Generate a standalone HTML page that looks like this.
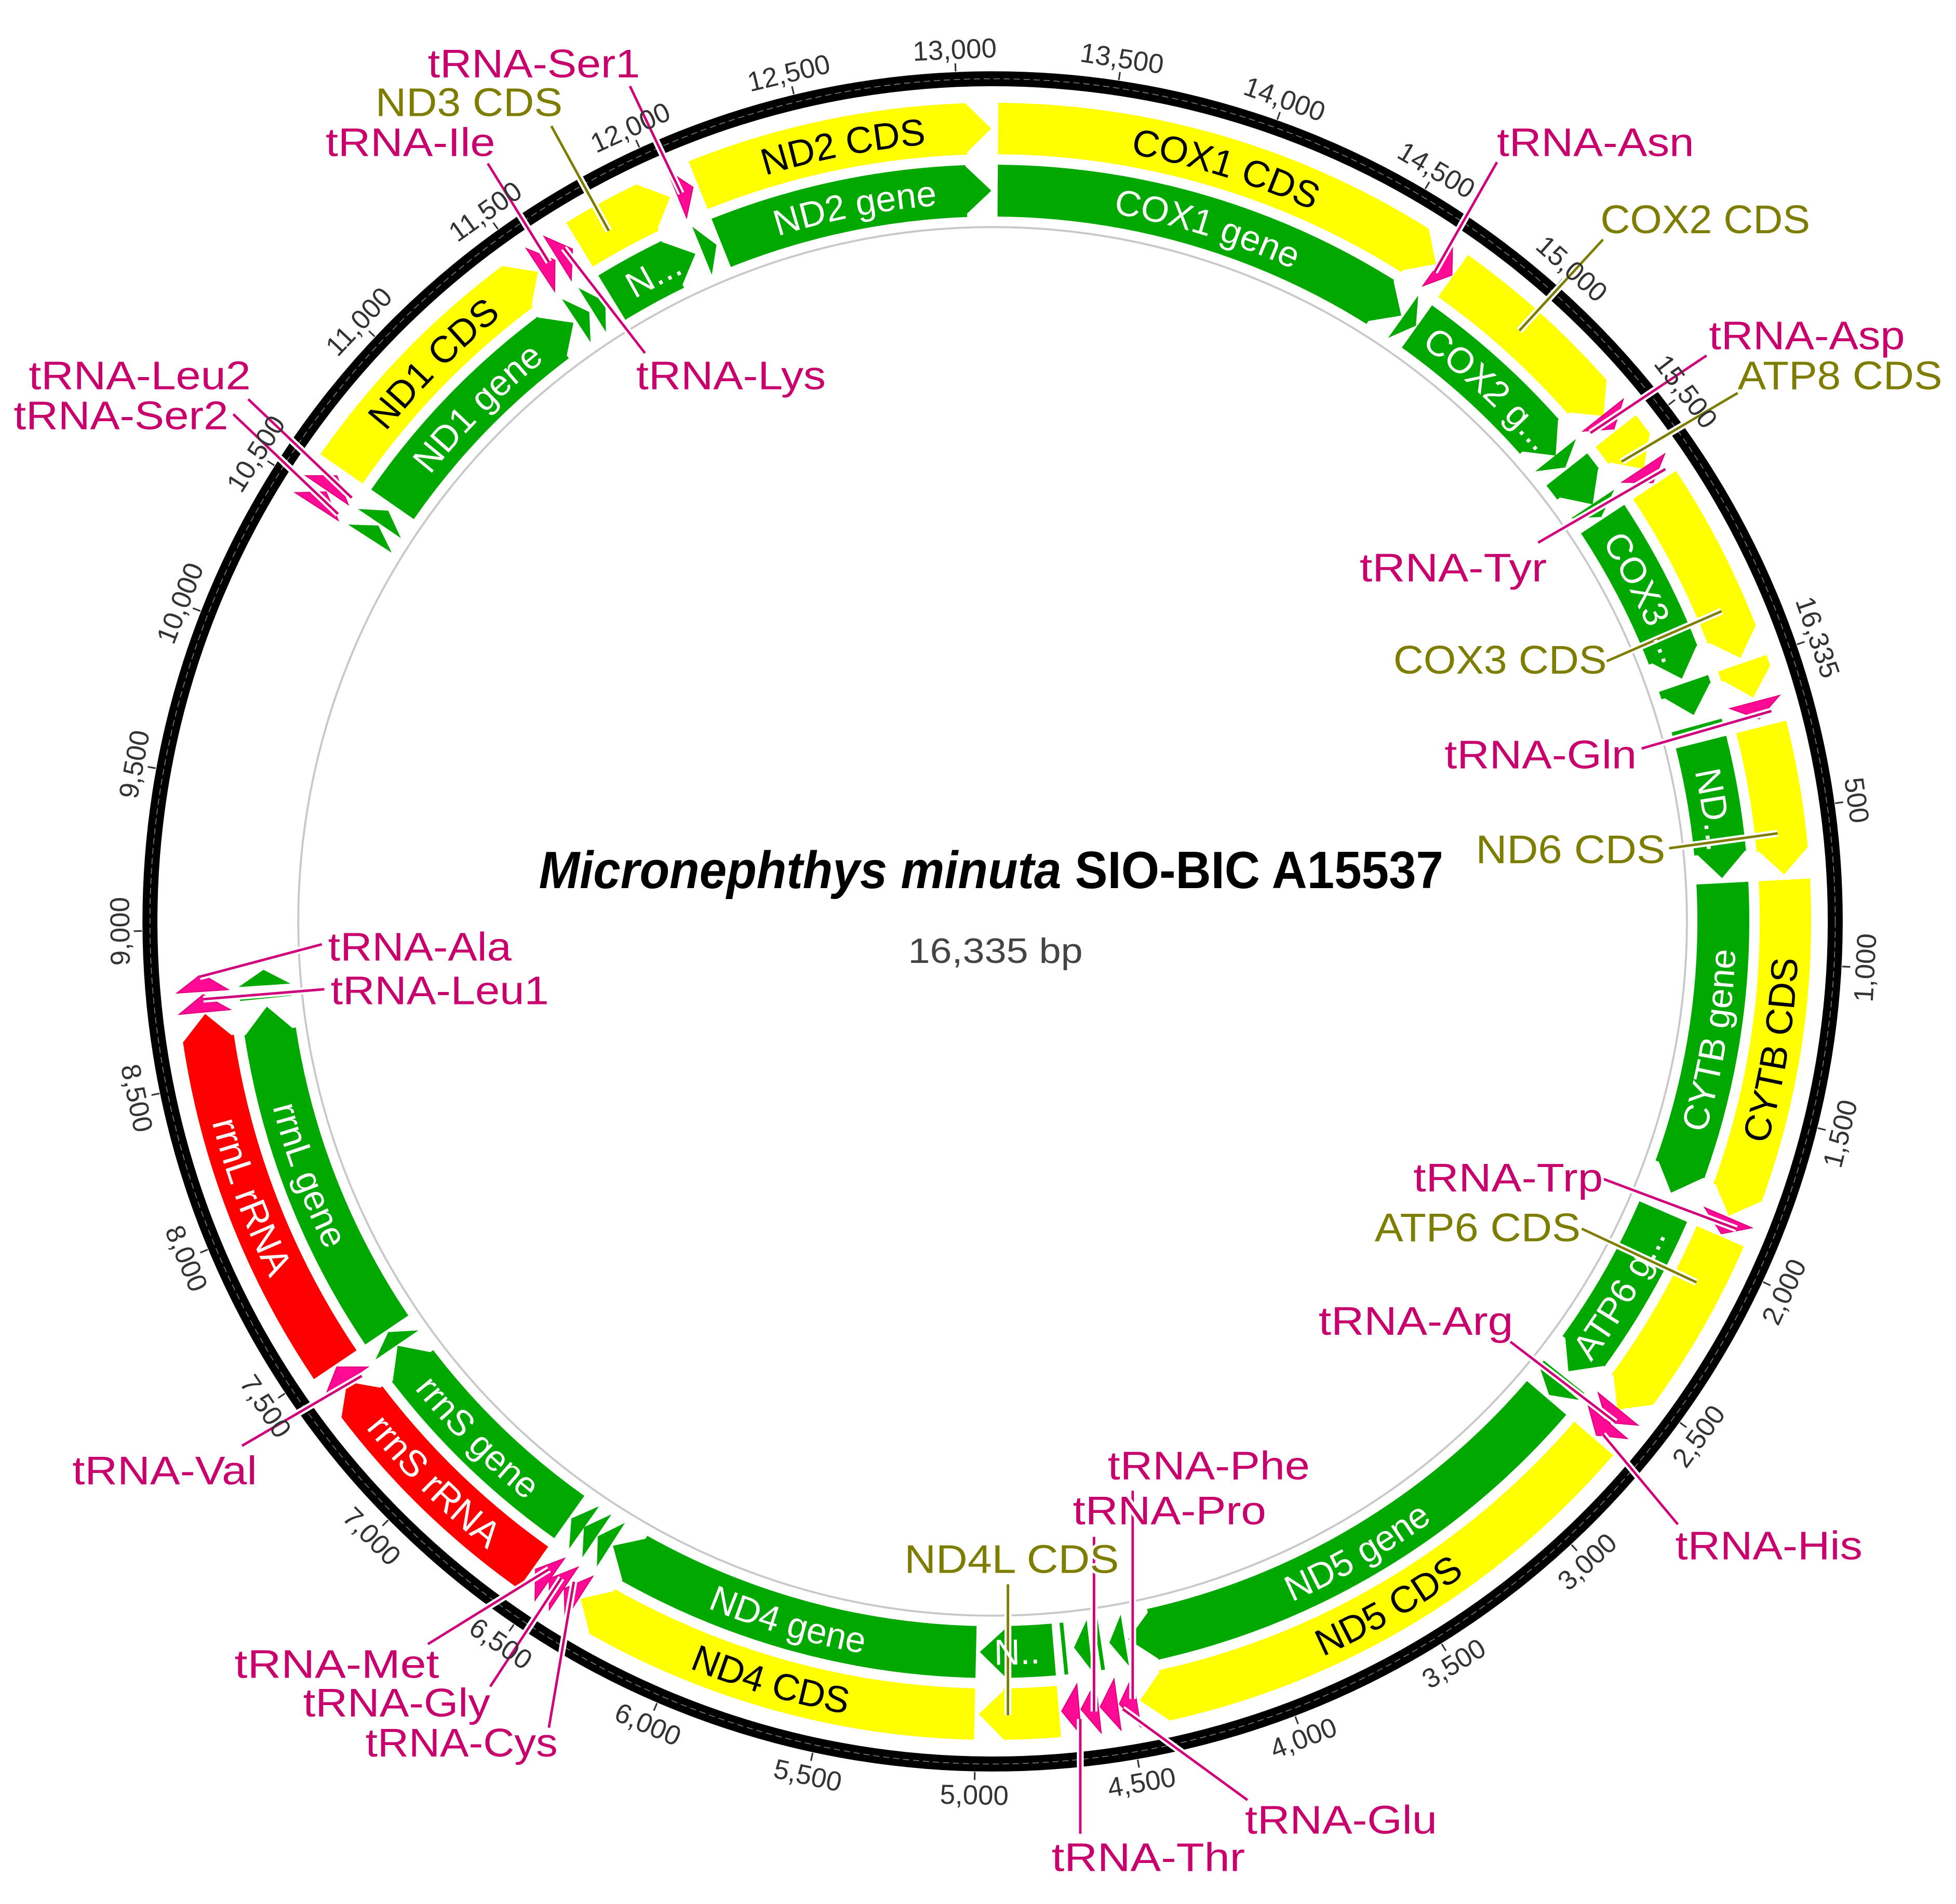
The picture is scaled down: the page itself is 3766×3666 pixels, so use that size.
<!DOCTYPE html>
<html><head><meta charset="utf-8"><style>
html,body{margin:0;padding:0;background:#fff;width:3766px;height:3666px;overflow:hidden;}
svg{display:block;}
.tk{font-family:"Liberation Sans",sans-serif;font-size:22px;fill:#333;text-anchor:middle;}
.lp{font-family:"Liberation Sans",sans-serif;font-size:32px;fill:#c8006e;paint-order:stroke;stroke:#fff;stroke-width:4px;}
.lo{font-family:"Liberation Sans",sans-serif;font-size:32px;fill:#7d7d00;paint-order:stroke;stroke:#fff;stroke-width:4px;}
.tc{font-family:"Liberation Sans",sans-serif;font-size:30px;fill:#000;text-anchor:middle;}
.tg{font-family:"Liberation Sans",sans-serif;font-size:29px;fill:#fff;text-anchor:middle;}
.bo{fill:none;stroke-width:41.2;}
.bg{fill:none;stroke-width:41.6;}
.y{stroke:#ffff00;} .g{stroke:#00a800;} .r{stroke:#ff0000;}
.tkl line{stroke:#333;stroke-width:1.3;}
.wl line{stroke:#fff;stroke-width:5.5;}
.pl line{stroke:#d0007a;stroke-width:2;}
.ol line{stroke:#7d7d00;stroke-width:2;}
</style></head><body>
<svg xmlns="http://www.w3.org/2000/svg" width="3766" height="3666" viewBox="0 0 1568 1526.3">
<defs>
<polygon id="ao" points="774.7,82.4 795.7,103 774.7,123.6"/>
<polygon id="ag" points="773.7,132 795.7,152.8 773.7,173.6"/>
<polygon id="to" points="781.7,82.4 795.7,103 781.7,123.6"/>
<polygon id="tg" points="783.2,132 795.7,152.8 783.2,173.6"/>
<path id="cwO" d="M795.7 113.5 A625.1 625.1 0 1 1 795.7 1363.7 A625.1 625.1 0 1 1 795.7 113.5"/>
<path id="cwG" d="M795.7 163 A575.6 575.6 0 1 1 795.7 1314.2 A575.6 575.6 0 1 1 795.7 163"/>
<path id="ccwO" d="M795.7 92.5 A646.1 646.1 0 1 0 795.7 1384.7 A646.1 646.1 0 1 0 795.7 92.5"/>
<path id="ccwG" d="M795.7 142.65 A595.95 595.95 0 1 0 795.7 1334.55 A595.95 595.95 0 1 0 795.7 142.65"/>
</defs>
<rect x="0" y="0" width="1568" height="1526.3" fill="#fff"/>
<circle cx="795.7" cy="738.6" r="556.6" fill="none" stroke="#c8c8c8" stroke-width="1.6"/>
<circle cx="795.7" cy="738.6" r="675.5" fill="none" stroke="#000" stroke-width="12"/>
<circle cx="795.7" cy="738.6" r="675.5" fill="none" stroke="#777" stroke-width="0.7" stroke-dasharray="5 3"/>
<g class="tkl">
<line x1="795.7" y1="56.6" x2="795.7" y2="50.1" transform="rotate(71 795.7 738.6)"/>
<line x1="795.7" y1="56.6" x2="795.7" y2="50.1" transform="rotate(82.02 795.7 738.6)"/>
<line x1="795.7" y1="56.6" x2="795.7" y2="50.1" transform="rotate(93.04 795.7 738.6)"/>
<line x1="795.7" y1="56.6" x2="795.7" y2="50.1" transform="rotate(104.06 795.7 738.6)"/>
<line x1="795.7" y1="56.6" x2="795.7" y2="50.1" transform="rotate(115.08 795.7 738.6)"/>
<line x1="795.7" y1="56.6" x2="795.7" y2="50.1" transform="rotate(126.10 795.7 738.6)"/>
<line x1="795.7" y1="56.6" x2="795.7" y2="50.1" transform="rotate(137.12 795.7 738.6)"/>
<line x1="795.7" y1="56.6" x2="795.7" y2="50.1" transform="rotate(148.14 795.7 738.6)"/>
<line x1="795.7" y1="56.6" x2="795.7" y2="50.1" transform="rotate(159.16 795.7 738.6)"/>
<line x1="795.7" y1="56.6" x2="795.7" y2="50.1" transform="rotate(170.18 795.7 738.6)"/>
<line x1="795.7" y1="56.6" x2="795.7" y2="50.1" transform="rotate(181.20 795.7 738.6)"/>
<line x1="795.7" y1="56.6" x2="795.7" y2="50.1" transform="rotate(192.21 795.7 738.6)"/>
<line x1="795.7" y1="56.6" x2="795.7" y2="50.1" transform="rotate(203.23 795.7 738.6)"/>
<line x1="795.7" y1="56.6" x2="795.7" y2="50.1" transform="rotate(214.25 795.7 738.6)"/>
<line x1="795.7" y1="56.6" x2="795.7" y2="50.1" transform="rotate(225.27 795.7 738.6)"/>
<line x1="795.7" y1="56.6" x2="795.7" y2="50.1" transform="rotate(236.29 795.7 738.6)"/>
<line x1="795.7" y1="56.6" x2="795.7" y2="50.1" transform="rotate(247.31 795.7 738.6)"/>
<line x1="795.7" y1="56.6" x2="795.7" y2="50.1" transform="rotate(258.33 795.7 738.6)"/>
<line x1="795.7" y1="56.6" x2="795.7" y2="50.1" transform="rotate(269.35 795.7 738.6)"/>
<line x1="795.7" y1="56.6" x2="795.7" y2="50.1" transform="rotate(280.37 795.7 738.6)"/>
<line x1="795.7" y1="56.6" x2="795.7" y2="50.1" transform="rotate(291.39 795.7 738.6)"/>
<line x1="795.7" y1="56.6" x2="795.7" y2="50.1" transform="rotate(302.41 795.7 738.6)"/>
<line x1="795.7" y1="56.6" x2="795.7" y2="50.1" transform="rotate(313.43 795.7 738.6)"/>
<line x1="795.7" y1="56.6" x2="795.7" y2="50.1" transform="rotate(324.45 795.7 738.6)"/>
<line x1="795.7" y1="56.6" x2="795.7" y2="50.1" transform="rotate(335.47 795.7 738.6)"/>
<line x1="795.7" y1="56.6" x2="795.7" y2="50.1" transform="rotate(346.49 795.7 738.6)"/>
<line x1="795.7" y1="56.6" x2="795.7" y2="50.1" transform="rotate(357.51 795.7 738.6)"/>
<line x1="795.7" y1="56.6" x2="795.7" y2="50.1" transform="rotate(8.53 795.7 738.6)"/>
<line x1="795.7" y1="56.6" x2="795.7" y2="50.1" transform="rotate(19.55 795.7 738.6)"/>
<line x1="795.7" y1="56.6" x2="795.7" y2="50.1" transform="rotate(30.57 795.7 738.6)"/>
<line x1="795.7" y1="56.6" x2="795.7" y2="50.1" transform="rotate(41.59 795.7 738.6)"/>
<line x1="795.7" y1="56.6" x2="795.7" y2="50.1" transform="rotate(52.61 795.7 738.6)"/>
</g>
<g>
<circle class="bo y" cx="795.7" cy="738.6" r="635.6" stroke-dasharray="352.8 5000" transform="rotate(-89.6 795.7 738.6)"/>
<circle class="bo y" cx="795.7" cy="738.6" r="635.6" stroke-dasharray="145.3 5000" transform="rotate(-54.5 795.7 738.6)"/>
<circle class="bo y" cx="795.7" cy="738.6" r="635.6" stroke-dasharray="17.7 5000" transform="rotate(-38.2 795.7 738.6)"/>
<circle class="bo y" cx="795.7" cy="738.6" r="635.6" stroke-dasharray="135.3 5000" transform="rotate(-33.4 795.7 738.6)"/>
<circle class="bo y" cx="795.7" cy="738.6" r="635.6" stroke-dasharray="8.9 5000" transform="rotate(-19 795.7 738.6)"/>
<circle class="bo y" cx="795.7" cy="738.6" r="635.6" stroke-dasharray="99.8 5000" transform="rotate(-14.2 795.7 738.6)"/>
<circle class="bo y" cx="795.7" cy="738.6" r="635.6" stroke-dasharray="255.1 5000" transform="rotate(-3 795.7 738.6)"/>
<circle class="bo y" cx="795.7" cy="738.6" r="635.6" stroke-dasharray="142 5000" transform="rotate(23.4 795.7 738.6)"/>
<circle class="bo y" cx="795.7" cy="738.6" r="635.6" stroke-dasharray="408.2 5000" transform="rotate(40.7 795.7 738.6)"/>
<circle class="bo y" cx="795.7" cy="738.6" r="635.6" stroke-dasharray="44.4 5000" transform="rotate(85.2 795.7 738.6)"/>
<circle class="bo y" cx="795.7" cy="738.6" r="635.6" stroke-dasharray="312.8 5000" transform="rotate(91.3 795.7 738.6)"/>
<circle class="bo r" cx="795.7" cy="738.6" r="635.6" stroke-dasharray="191.9 5000" transform="rotate(125.4 795.7 738.6)"/>
<circle class="bo r" cx="795.7" cy="738.6" r="635.6" stroke-dasharray="282.9 5000" transform="rotate(146 795.7 738.6)"/>
<circle class="bo y" cx="795.7" cy="738.6" r="635.6" stroke-dasharray="204.1 5000" transform="rotate(214.8 795.7 738.6)"/>
<circle class="bo y" cx="795.7" cy="738.6" r="635.6" stroke-dasharray="62.1 5000" transform="rotate(238.6 795.7 738.6)"/>
<circle class="bo y" cx="795.7" cy="738.6" r="635.6" stroke-dasharray="220.8 5000" transform="rotate(248.2 795.7 738.6)"/>
</g>
<g fill="#ffff00">
<use href="#ao" transform="rotate(34 795.7 738.6)"/>
<use href="#ao" transform="rotate(50.4 795.7 738.6)"/>
<use href="#ao" transform="rotate(55.2 795.7 738.6)"/>
<use href="#ao" transform="rotate(70.6 795.7 738.6)"/>
<use href="#ao" transform="rotate(73.6 795.7 738.6)"/>
<use href="#ao" transform="rotate(86.6 795.7 738.6)"/>
<use href="#ao" transform="rotate(111.8 795.7 738.6)"/>
<use href="#ao" transform="rotate(128 795.7 738.6)"/>
<use href="#ao" transform="rotate(169.3 795.7 738.6)"/>
<use href="#ao" transform="rotate(181 795.7 738.6)"/>
<use href="#ao" transform="rotate(211.3 795.7 738.6)"/>
<use href="#ao" transform="rotate(325 795.7 738.6)"/>
<use href="#ao" transform="rotate(336 795.7 738.6)"/>
<use href="#ao" transform="rotate(359.9 795.7 738.6)"/>
</g>
<g fill="#ff0000">
<use href="#ao" transform="rotate(234.5 795.7 738.6)"/>
<use href="#ao" transform="rotate(263.3 795.7 738.6)"/>
</g>
<g>
<circle class="bg g" cx="795.7" cy="738.6" r="585.8" stroke-dasharray="323.5 5000" transform="rotate(-89.6 795.7 738.6)"/>
<circle class="bg g" cx="795.7" cy="738.6" r="585.8" stroke-dasharray="132.3 5000" transform="rotate(-54.5 795.7 738.6)"/>
<circle class="bg g" cx="795.7" cy="738.6" r="585.8" stroke-dasharray="14.7 5000" transform="rotate(-38.2 795.7 738.6)"/>
<circle class="bg g" cx="795.7" cy="738.6" r="585.8" stroke-dasharray="123.1 5000" transform="rotate(-33.4 795.7 738.6)"/>
<circle class="bg g" cx="795.7" cy="738.6" r="585.8" stroke-dasharray="6.5 5000" transform="rotate(-19 795.7 738.6)"/>
<circle class="bg g" cx="795.7" cy="738.6" r="585.8" stroke-dasharray="90.4 5000" transform="rotate(-14.2 795.7 738.6)"/>
<circle class="bg g" cx="795.7" cy="738.6" r="585.8" stroke-dasharray="233.5 5000" transform="rotate(-3 795.7 738.6)"/>
<circle class="bg g" cx="795.7" cy="738.6" r="585.8" stroke-dasharray="129.2 5000" transform="rotate(23.4 795.7 738.6)"/>
<circle class="bg g" cx="795.7" cy="738.6" r="585.8" stroke-dasharray="374.6 5000" transform="rotate(40.7 795.7 738.6)"/>
<circle class="bg g" cx="795.7" cy="738.6" r="585.8" stroke-dasharray="39.3 5000" transform="rotate(85.2 795.7 738.6)"/>
<circle class="bg g" cx="795.7" cy="738.6" r="585.8" stroke-dasharray="286.7 5000" transform="rotate(91.3 795.7 738.6)"/>
<circle class="bg g" cx="795.7" cy="738.6" r="585.8" stroke-dasharray="175.2 5000" transform="rotate(125.4 795.7 738.6)"/>
<circle class="bg g" cx="795.7" cy="738.6" r="585.8" stroke-dasharray="259.1 5000" transform="rotate(146 795.7 738.6)"/>
<circle class="bg g" cx="795.7" cy="738.6" r="585.8" stroke-dasharray="186.5 5000" transform="rotate(214.8 795.7 738.6)"/>
<circle class="bg g" cx="795.7" cy="738.6" r="585.8" stroke-dasharray="55.6 5000" transform="rotate(238.6 795.7 738.6)"/>
<circle class="bg g" cx="795.7" cy="738.6" r="585.8" stroke-dasharray="201.8 5000" transform="rotate(248.2 795.7 738.6)"/>
</g>
<g fill="#00a800">
<use href="#ag" transform="rotate(34 795.7 738.6)"/>
<use href="#ag" transform="rotate(50.4 795.7 738.6)"/>
<use href="#ag" transform="rotate(55.2 795.7 738.6)"/>
<use href="#ag" transform="rotate(70.6 795.7 738.6)"/>
<use href="#ag" transform="rotate(73.6 795.7 738.6)"/>
<use href="#ag" transform="rotate(86.6 795.7 738.6)"/>
<use href="#ag" transform="rotate(111.8 795.7 738.6)"/>
<use href="#ag" transform="rotate(128 795.7 738.6)"/>
<use href="#ag" transform="rotate(169.3 795.7 738.6)"/>
<use href="#ag" transform="rotate(181 795.7 738.6)"/>
<use href="#ag" transform="rotate(211.3 795.7 738.6)"/>
<use href="#ag" transform="rotate(234.5 795.7 738.6)"/>
<use href="#ag" transform="rotate(263.3 795.7 738.6)"/>
<use href="#ag" transform="rotate(325 795.7 738.6)"/>
<use href="#ag" transform="rotate(336 795.7 738.6)"/>
<use href="#ag" transform="rotate(359.9 795.7 738.6)"/>
<use href="#tg" transform="rotate(35.4 795.7 738.6)"/>
<use href="#tg" transform="rotate(51.6 795.7 738.6)"/>
<use href="#tg" transform="rotate(56.4 795.7 738.6)"/>
<use href="#tg" transform="rotate(130.4 795.7 738.6)"/>
<use href="#tg" transform="rotate(170.8 795.7 738.6)"/>
<use href="#tg" transform="rotate(173.6 795.7 738.6)"/>
<use href="#tg" transform="rotate(212.7 795.7 738.6)"/>
<use href="#tg" transform="rotate(214 795.7 738.6)"/>
<use href="#tg" transform="rotate(215.2 795.7 738.6)"/>
<use href="#tg" transform="rotate(235.8 795.7 738.6)"/>
<use href="#tg" transform="rotate(266.2 795.7 738.6)"/>
<use href="#tg" transform="rotate(302.8 795.7 738.6)"/>
<use href="#tg" transform="rotate(304.2 795.7 738.6)"/>
<use href="#tg" transform="rotate(326.5 795.7 738.6)"/>
<use href="#tg" transform="rotate(328 795.7 738.6)"/>
<use href="#tg" transform="rotate(337.8 795.7 738.6)"/>
</g>
<g stroke="#00a800" stroke-width="3">
<line x1="795.7" y1="132" x2="795.7" y2="173.6" transform="rotate(74.6 795.7 738.6)"/>
<line x1="795.7" y1="132" x2="795.7" y2="173.6" transform="rotate(112.6 795.7 738.6)"/>
<line x1="795.7" y1="132" x2="795.7" y2="173.6" transform="rotate(128.7 795.7 738.6)"/>
<line x1="795.7" y1="132" x2="795.7" y2="173.6" transform="rotate(171.6 795.7 738.6)"/>
<line x1="795.7" y1="132" x2="795.7" y2="173.6" transform="rotate(174.4 795.7 738.6)"/>
<line x1="795.7" y1="132" x2="795.7" y2="173.6" transform="rotate(264.1 795.7 738.6)"/>
</g>
<g fill="#ff0a94" stroke="#e0007a" stroke-width="0.8">
<use href="#to" transform="rotate(35.4 795.7 738.6)"/>
<use href="#to" transform="rotate(51.6 795.7 738.6)"/>
<use href="#to" transform="rotate(56.4 795.7 738.6)"/>
<use href="#to" transform="rotate(75.2 795.7 738.6)"/>
<use href="#to" transform="rotate(113.2 795.7 738.6)"/>
<use href="#to" transform="rotate(129.2 795.7 738.6)"/>
<use href="#to" transform="rotate(130.4 795.7 738.6)"/>
<use href="#to" transform="rotate(170.8 795.7 738.6)"/>
<use href="#to" transform="rotate(172.2 795.7 738.6)"/>
<use href="#to" transform="rotate(173.6 795.7 738.6)"/>
<use href="#to" transform="rotate(175 795.7 738.6)"/>
<use href="#to" transform="rotate(212.7 795.7 738.6)"/>
<use href="#to" transform="rotate(214 795.7 738.6)"/>
<use href="#to" transform="rotate(215.2 795.7 738.6)"/>
<use href="#to" transform="rotate(235.8 795.7 738.6)"/>
<use href="#to" transform="rotate(264.7 795.7 738.6)"/>
<use href="#to" transform="rotate(266.2 795.7 738.6)"/>
<use href="#to" transform="rotate(302.8 795.7 738.6)"/>
<use href="#to" transform="rotate(304.2 795.7 738.6)"/>
<use href="#to" transform="rotate(326.5 795.7 738.6)"/>
<use href="#to" transform="rotate(328 795.7 738.6)"/>
<use href="#to" transform="rotate(337.8 795.7 738.6)"/>
</g>
<g class="wl">
<line x1="505" y1="69" x2="546" y2="155"/><line x1="391" y1="131" x2="440" y2="210"/><line x1="517" y1="283" x2="452" y2="199"/>
<line x1="199" y1="320" x2="282" y2="399"/><line x1="187" y1="332" x2="271" y2="412"/><line x1="1200" y1="130" x2="1150" y2="218"/>
<line x1="1368" y1="285" x2="1275" y2="347"/><line x1="1233" y1="435" x2="1335" y2="376"/><line x1="1316" y1="600" x2="1420" y2="570"/>
<line x1="1285" y1="945" x2="1392" y2="985"/><line x1="1210" y1="1075" x2="1295" y2="1140"/><line x1="1345" y1="1222" x2="1285" y2="1150"/>
<line x1="908" y1="1195" x2="908" y2="1362"/><line x1="877" y1="1232" x2="877" y2="1372"/><line x1="1000" y1="1443" x2="900" y2="1370"/>
<line x1="866" y1="1470" x2="866" y2="1378"/><line x1="343" y1="1318" x2="440" y2="1258"/><line x1="393" y1="1352" x2="450" y2="1265"/>
<line x1="440" y1="1385" x2="460" y2="1268"/><line x1="194" y1="1159" x2="290" y2="1103"/><line x1="258" y1="757" x2="160" y2="783"/>
<line x1="260" y1="793" x2="163" y2="801"/>
<line x1="442" y1="101" x2="488" y2="185"/><line x1="1285" y1="192" x2="1218" y2="265"/><line x1="1393" y1="315" x2="1300" y2="370"/>
<line x1="1288" y1="530" x2="1380" y2="490"/><line x1="1338" y1="680" x2="1425" y2="668"/><line x1="1268" y1="985" x2="1360" y2="1028"/>
<line x1="808" y1="1270" x2="808" y2="1375"/>
</g>
<g class="pl">
<line x1="505" y1="69" x2="546" y2="155"/><line x1="391" y1="131" x2="440" y2="210"/><line x1="517" y1="283" x2="452" y2="199"/>
<line x1="199" y1="320" x2="282" y2="399"/><line x1="187" y1="332" x2="271" y2="412"/><line x1="1200" y1="130" x2="1150" y2="218"/>
<line x1="1368" y1="285" x2="1275" y2="347"/><line x1="1233" y1="435" x2="1335" y2="376"/><line x1="1316" y1="600" x2="1420" y2="570"/>
<line x1="1285" y1="945" x2="1392" y2="985"/><line x1="1210" y1="1075" x2="1295" y2="1140"/><line x1="1345" y1="1222" x2="1285" y2="1150"/>
<line x1="908" y1="1195" x2="908" y2="1362"/><line x1="877" y1="1232" x2="877" y2="1372"/><line x1="1000" y1="1443" x2="900" y2="1370"/>
<line x1="866" y1="1470" x2="866" y2="1378"/><line x1="343" y1="1318" x2="440" y2="1258"/><line x1="393" y1="1352" x2="450" y2="1265"/>
<line x1="440" y1="1385" x2="460" y2="1268"/><line x1="194" y1="1159" x2="290" y2="1103"/><line x1="258" y1="757" x2="160" y2="783"/>
<line x1="260" y1="793" x2="163" y2="801"/>
</g>
<g class="ol">
<line x1="442" y1="101" x2="488" y2="185"/><line x1="1285" y1="192" x2="1218" y2="265"/><line x1="1393" y1="315" x2="1300" y2="370"/>
<line x1="1288" y1="530" x2="1380" y2="490"/><line x1="1338" y1="680" x2="1425" y2="668"/><line x1="1268" y1="985" x2="1360" y2="1028"/>
<line x1="808" y1="1270" x2="808" y2="1375"/>
</g>
<g>
<text class="tc"><textPath href="#cwO" startOffset="187.7">COX1 CDS</textPath></text>
<text class="tc"><textPath href="#cwO" startOffset="3808.1">ND2 CDS</textPath></text>
<text class="tc"><textPath href="#cwO" startOffset="3435.6">ND1 CDS</textPath></text>
<text class="tc"><textPath href="#ccwO" startOffset="2938.8">CYTB CDS</textPath></text>
<text class="tc"><textPath href="#ccwO" startOffset="2368.2">ND5 CDS</textPath></text>
<text class="tc"><textPath href="#ccwO" startOffset="1846">ND4 CDS</textPath></text>
<text class="tg" style="font-size:30px"><textPath href="#ccwO" startOffset="1523">rrnS rRNA</textPath></text>
<text class="tg" style="font-size:30px"><textPath href="#ccwO" startOffset="1244.4">rrnL rRNA</textPath></text>
<text class="tg"><textPath href="#cwG" startOffset="3506.6">ND2 gene</textPath></text>
<text class="tg"><textPath href="#cwG" startOffset="172.8">COX1 gene</textPath></text>
<text class="tg"><textPath href="#cwG" startOffset="431.5">COX2 g...</textPath></text>
<text class="tg"><textPath href="#cwG" startOffset="638.9">COX3 ...</textPath></text>
<text class="tg"><textPath href="#cwG" startOffset="815.7">ND...</textPath></text>
<text class="tg"><textPath href="#ccwG" startOffset="2710.5">CYTB gene</textPath></text>
<text class="tg"><textPath href="#ccwG" startOffset="2489">ATP6 g...</textPath></text>
<text class="tg"><textPath href="#ccwG" startOffset="2184.2">ND5 gene</textPath></text>
<text class="tg"><textPath href="#ccwG" startOffset="1891.9">N..</textPath></text>
<text class="tg"><textPath href="#ccwG" startOffset="1702.6">ND4 gene</textPath></text>
<text class="tg"><textPath href="#ccwG" startOffset="1404.7">rrnS gene</textPath></text>
<text class="tg"><textPath href="#ccwG" startOffset="1147.7">rrnL gene</textPath></text>
<text class="tg"><textPath href="#cwG" startOffset="3163.5">ND1 gene</textPath></text>
<text class="tg"><textPath href="#cwG" startOffset="3338.3">N...</textPath></text>
</g>
<g>
<text class="tk" transform="rotate(71 795.7 738.6)" x="795.7" y="46.6">16,335</text>
<text class="tk" transform="rotate(82.02 795.7 738.6)" x="795.7" y="46.6">500</text>
<text class="tk" transform="rotate(-86.96 795.7 738.6)" x="795.7" y="1446.6">1,000</text>
<text class="tk" transform="rotate(-75.94 795.7 738.6)" x="795.7" y="1446.6">1,500</text>
<text class="tk" transform="rotate(-64.92 795.7 738.6)" x="795.7" y="1446.6">2,000</text>
<text class="tk" transform="rotate(-53.90 795.7 738.6)" x="795.7" y="1446.6">2,500</text>
<text class="tk" transform="rotate(-42.88 795.7 738.6)" x="795.7" y="1446.6">3,000</text>
<text class="tk" transform="rotate(-31.86 795.7 738.6)" x="795.7" y="1446.6">3,500</text>
<text class="tk" transform="rotate(-20.84 795.7 738.6)" x="795.7" y="1446.6">4,000</text>
<text class="tk" transform="rotate(-9.82 795.7 738.6)" x="795.7" y="1446.6">4,500</text>
<text class="tk" transform="rotate(1.20 795.7 738.6)" x="795.7" y="1446.6">5,000</text>
<text class="tk" transform="rotate(12.21 795.7 738.6)" x="795.7" y="1446.6">5,500</text>
<text class="tk" transform="rotate(23.23 795.7 738.6)" x="795.7" y="1446.6">6,000</text>
<text class="tk" transform="rotate(34.25 795.7 738.6)" x="795.7" y="1446.6">6,500</text>
<text class="tk" transform="rotate(45.27 795.7 738.6)" x="795.7" y="1446.6">7,000</text>
<text class="tk" transform="rotate(56.29 795.7 738.6)" x="795.7" y="1446.6">7,500</text>
<text class="tk" transform="rotate(67.31 795.7 738.6)" x="795.7" y="1446.6">8,000</text>
<text class="tk" transform="rotate(78.33 795.7 738.6)" x="795.7" y="1446.6">8,500</text>
<text class="tk" transform="rotate(269.35 795.7 738.6)" x="795.7" y="46.6">9,000</text>
<text class="tk" transform="rotate(280.37 795.7 738.6)" x="795.7" y="46.6">9,500</text>
<text class="tk" transform="rotate(291.39 795.7 738.6)" x="795.7" y="46.6">10,000</text>
<text class="tk" transform="rotate(302.41 795.7 738.6)" x="795.7" y="46.6">10,500</text>
<text class="tk" transform="rotate(313.43 795.7 738.6)" x="795.7" y="46.6">11,000</text>
<text class="tk" transform="rotate(324.45 795.7 738.6)" x="795.7" y="46.6">11,500</text>
<text class="tk" transform="rotate(335.47 795.7 738.6)" x="795.7" y="46.6">12,000</text>
<text class="tk" transform="rotate(346.49 795.7 738.6)" x="795.7" y="46.6">12,500</text>
<text class="tk" transform="rotate(357.51 795.7 738.6)" x="795.7" y="46.6">13,000</text>
<text class="tk" transform="rotate(8.53 795.7 738.6)" x="795.7" y="46.6">13,500</text>
<text class="tk" transform="rotate(19.55 795.7 738.6)" x="795.7" y="46.6">14,000</text>
<text class="tk" transform="rotate(30.57 795.7 738.6)" x="795.7" y="46.6">14,500</text>
<text class="tk" transform="rotate(41.59 795.7 738.6)" x="795.7" y="46.6">15,000</text>
<text class="tk" transform="rotate(52.61 795.7 738.6)" x="795.7" y="46.6">15,500</text>
</g>
<g>
<text class="lp" x="343" y="62" textLength="170" lengthAdjust="spacingAndGlyphs">tRNA-Ser1</text>
<text class="lo" x="301" y="93" textLength="150" lengthAdjust="spacingAndGlyphs">ND3 CDS</text>
<text class="lp" x="261" y="125" textLength="136" lengthAdjust="spacingAndGlyphs">tRNA-Ile</text>
<text class="lp" x="510" y="312" textLength="152" lengthAdjust="spacingAndGlyphs">tRNA-Lys</text>
<text class="lp" x="23" y="312" textLength="178" lengthAdjust="spacingAndGlyphs">tRNA-Leu2</text>
<text class="lp" x="11" y="344" textLength="172" lengthAdjust="spacingAndGlyphs">tRNA-Ser2</text>
<text class="lp" x="1200" y="125" textLength="158" lengthAdjust="spacingAndGlyphs">tRNA-Asn</text>
<text class="lo" x="1283" y="187" textLength="168" lengthAdjust="spacingAndGlyphs">COX2 CDS</text>
<text class="lp" x="1370" y="280" textLength="157" lengthAdjust="spacingAndGlyphs">tRNA-Asp</text>
<text class="lo" x="1393" y="312" textLength="164" lengthAdjust="spacingAndGlyphs">ATP8 CDS</text>
<text class="lp" x="1090" y="466" textLength="150" lengthAdjust="spacingAndGlyphs">tRNA-Tyr</text>
<text class="lo" x="1117" y="540" textLength="171" lengthAdjust="spacingAndGlyphs">COX3 CDS</text>
<text class="lp" x="1158" y="616" textLength="154" lengthAdjust="spacingAndGlyphs">tRNA-Gln</text>
<text class="lo" x="1183" y="692" textLength="152" lengthAdjust="spacingAndGlyphs">ND6 CDS</text>
<text class="lp" x="1133" y="955" textLength="152" lengthAdjust="spacingAndGlyphs">tRNA-Trp</text>
<text class="lo" x="1102" y="995" textLength="165" lengthAdjust="spacingAndGlyphs">ATP6 CDS</text>
<text class="lp" x="1057" y="1070" textLength="156" lengthAdjust="spacingAndGlyphs">tRNA-Arg</text>
<text class="lp" x="1343" y="1250" textLength="150" lengthAdjust="spacingAndGlyphs">tRNA-His</text>
<text class="lp" x="888" y="1186" textLength="162" lengthAdjust="spacingAndGlyphs">tRNA-Phe</text>
<text class="lp" x="860" y="1222" textLength="155" lengthAdjust="spacingAndGlyphs">tRNA-Pro</text>
<text class="lo" x="725" y="1261" textLength="172" lengthAdjust="spacingAndGlyphs">ND4L CDS</text>
<text class="lp" x="998" y="1470" textLength="154" lengthAdjust="spacingAndGlyphs">tRNA-Glu</text>
<text class="lp" x="843" y="1500" textLength="155" lengthAdjust="spacingAndGlyphs">tRNA-Thr</text>
<text class="lp" x="188" y="1345" textLength="164" lengthAdjust="spacingAndGlyphs">tRNA-Met</text>
<text class="lp" x="243" y="1376" textLength="150" lengthAdjust="spacingAndGlyphs">tRNA-Gly</text>
<text class="lp" x="293" y="1408" textLength="154" lengthAdjust="spacingAndGlyphs">tRNA-Cys</text>
<text class="lp" x="58" y="1190" textLength="148" lengthAdjust="spacingAndGlyphs">tRNA-Val</text>
<text class="lp" x="263" y="770" textLength="147" lengthAdjust="spacingAndGlyphs">tRNA-Ala</text>
<text class="lp" x="265" y="805" textLength="175" lengthAdjust="spacingAndGlyphs">tRNA-Leu1</text>
</g>
<text x="432" y="712" textLength="725" lengthAdjust="spacingAndGlyphs" style="font-family:'Liberation Sans',sans-serif;font-size:42px;font-weight:bold;fill:#000;"><tspan font-style="italic">Micronephthys minuta</tspan> SIO-BIC A15537</text>
<text x="728" y="772" textLength="140" lengthAdjust="spacingAndGlyphs" style="font-family:'Liberation Sans',sans-serif;font-size:28px;fill:#444;">16,335 bp</text>
</svg>
</body></html>
